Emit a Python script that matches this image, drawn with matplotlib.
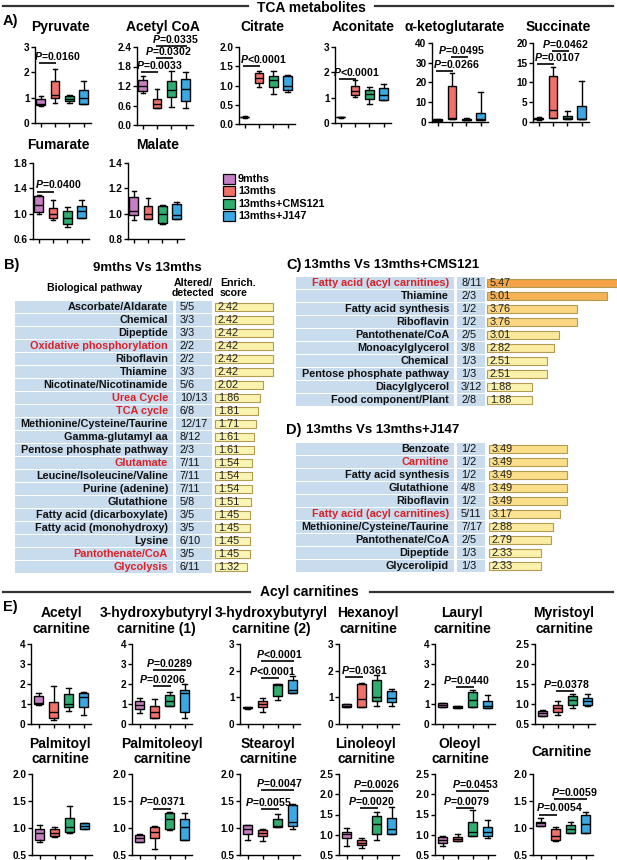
import matplotlib
matplotlib.use('Agg')
import matplotlib.pyplot as plt
from matplotlib.colors import LinearSegmentedColormap
from matplotlib.patches import Rectangle
import numpy as np

plt.rcParams['font.family'] = ['Liberation Sans', 'DejaVu Sans']
plt.rcParams['mathtext.fontset'] = 'custom'
plt.rcParams['mathtext.it'] = 'Liberation Sans:italic:bold'
plt.rcParams['mathtext.rm'] = 'Liberation Sans:bold'
plt.rcParams['mathtext.bf'] = 'Liberation Sans:bold'

# ---------------- data ----------------
groups = ['9mths', '13mths', '13mths+CMS121', '13mths+J147']
group_colors = ['#c77fc4', '#f2706a', '#2fae72', '#3aa8e2']

# box stats: (whislo, q1, median, q3, whishi) per group
pyruvate = [(0.68, 0.72, 0.76, 0.95, 1.05), (0.78, 0.98, 1.11, 1.66, 2.15), (0.78, 0.85, 0.95, 1.07, 1.11), (0.76, 0.76, 0.98, 1.30, 1.66)]
acetylcoa = [(0.98, 1.04, 1.20, 1.40, 1.50), (0.51, 0.51, 0.64, 0.80, 1.12), (0.54, 0.87, 1.07, 1.35, 1.65), (0.51, 0.74, 1.12, 1.41, 1.63)]
citrate = [(0.16, 0.17, 0.18, 0.19, 0.20), (0.95, 1.07, 1.19, 1.33, 1.38), (0.78, 0.95, 1.14, 1.24, 1.38), (0.84, 0.88, 0.98, 1.24, 1.28)]
aconitate = [(0.21, 0.22, 0.23, 0.24, 0.25), (1.02, 1.11, 1.28, 1.46, 1.69), (0.76, 0.95, 1.15, 1.30, 1.41), (0.91, 0.91, 1.11, 1.37, 1.54)]
akg = [(0.3, 0.5, 0.9, 1.4, 1.6), (1.4, 1.7, 2.2, 18.2, 25.0), (0.8, 0.85, 1.2, 1.7, 1.8), (1.2, 1.2, 1.7, 4.6, 15.3)]
succinate = [(0.6, 0.68, 0.85, 1.1, 1.2), (1.1, 1.1, 3.1, 11.7, 13.9), (0.68, 0.68, 1.1, 1.45, 2.8), (0.68, 0.68, 0.85, 4.0, 10.4)]
fumarate = [(1.0, 1.02, 1.13, 1.28, 1.30), (0.90, 0.93, 1.0, 1.09, 1.21), (0.79, 0.84, 0.93, 1.04, 1.10), (0.93, 0.93, 1.04, 1.12, 1.21)]
malate = [(0.95, 0.99, 1.02, 1.13, 1.18), (0.96, 0.96, 1.0, 1.06, 1.12), (0.92, 0.93, 1.0, 1.06, 1.07), (0.96, 0.96, 0.99, 1.08, 1.09)]

tca_names = ['Pyruvate', 'Acetyl CoA', 'Citrate', 'Aconitate', 'α-ketoglutarate', 'Succinate', 'Fumarate', 'Malate']
tca_stats = [pyruvate, acetylcoa, citrate, aconitate, akg, succinate, fumarate, malate]
tca_yticks = [[0, 1, 2, 3], [0, 0.6, 1.2, 1.8, 2.4], [0, 0.5, 1.0, 1.5, 2.0], [0, 1, 2, 3],
              [0, 10, 20, 30, 40], [0, 5, 10, 15, 20], [0.6, 1.0, 1.4, 1.8], [0.8, 1.0, 1.2, 1.4]]
tca_yticklabels = [['0', '1', '2', '3'], ['0.0', '0.6', '1.2', '1.8', '2.4'], ['0.0', '0.5', '1.0', '1.5', '2.0'],
                   ['0', '1', '2', '3'], ['0', '10', '20', '30', '40'], ['0', '5', '10', '15', '20'],
                   ['0.6', '1.0', '1.4', '1.8'], ['0.8', '1.0', '1.2', '1.4']]
# (group i, group j, bar height, label, label x)
tca_pvals = [
    [(1, 2, 2.37, '=0.0160', 2.2)],
    [(1, 2, 1.63, '=0.0033', 2.14), (2, 3, 2.07, '=0.0302', 2.77), (2, 4, 2.42, '=0.0335', 3.26)],
    [(1, 2, 1.5, '<0.0001', 2.28)],
    [(1, 2, 1.73, '<0.0001', 2.07)],
    [(1, 2, 26, '=0.0266', 2.33), (2, 3, 33, '=0.0495', 2.67)],
    [(1, 2, 14.7, '=0.0107', 2.3), (2, 3, 17.9, '=0.0462', 2.84)],
    [(1, 2, 1.35, '=0.0400', 2.35)],
    [],
]

acetylcarn = [(0.97, 1.0, 1.05, 1.4, 1.55), (0.2, 0.29, 0.62, 1.08, 1.92), (0.66, 0.83, 1.0, 1.5, 1.8), (0.45, 0.83, 1.33, 1.55, 1.58)]
hb1 = [(0.57, 0.74, 0.96, 1.16, 1.3), (0.29, 0.32, 0.62, 0.91, 1.25), (0.89, 0.89, 1.13, 1.47, 1.62), (0.29, 0.62, 1.55, 1.70, 2.0)]
hb2 = [(0.58, 0.59, 0.61, 0.63, 0.65), (0.46, 0.63, 0.75, 0.88, 0.98), (0.9, 1.06, 1.47, 1.5, 1.5), (1.15, 1.15, 1.27, 1.65, 1.81)]
hexanoyl = [(0.62, 0.62, 0.68, 0.75, 0.75), (0.62, 0.62, 0.94, 1.5, 1.55), (0.69, 0.87, 1.02, 1.65, 1.85), (0.69, 0.81, 0.98, 1.22, 1.31)]
lauryl = [(0.83, 0.86, 0.96, 1.03, 1.03), (0.79, 0.79, 0.86, 0.91, 0.91), (0.83, 0.83, 1.21, 1.59, 1.7), (0.79, 0.79, 0.91, 1.16, 1.47)]
myristoyl = [(0.71, 0.71, 0.77, 0.83, 0.85), (0.73, 0.80, 0.90, 0.98, 1.07), (0.91, 0.98, 1.11, 1.21, 1.26), (0.95, 0.97, 1.07, 1.14, 1.26)]
palmitoyl = [(0.75, 0.77, 0.91, 0.99, 1.06), (0.84, 0.85, 0.91, 0.99, 1.02), (0.90, 0.93, 1.02, 1.18, 1.40), (0.99, 0.99, 1.04, 1.09, 1.10)]
palmitoleoyl = [(0.74, 0.75, 0.81, 0.87, 0.88), (0.62, 0.81, 0.93, 1.01, 1.04), (0.96, 0.98, 1.16, 1.28, 1.30), (0.77, 0.77, 1.02, 1.16, 1.28)]
stearoyl = [(0.78, 0.89, 0.99, 1.06, 1.06), (0.76, 0.85, 0.90, 0.96, 0.98), (1.01, 1.01, 1.04, 1.16, 1.26), (0.99, 1.04, 1.12, 1.43, 1.45)]
linoleoyl = [(0.72, 0.92, 1.02, 1.08, 1.16), (0.68, 0.75, 0.80, 0.87, 0.91), (0.87, 1.03, 1.26, 1.46, 1.55), (1.02, 1.02, 1.13, 1.42, 1.68)]
oleoyl = [(0.71, 0.79, 0.87, 0.94, 0.97), (0.85, 0.85, 0.90, 0.95, 1.01), (0.97, 0.97, 1.08, 1.32, 1.61), (0.91, 0.97, 1.08, 1.18, 1.36)]
carnitine = [(1.04, 1.04, 1.09, 1.12, 1.18), (0.76, 0.78, 0.85, 0.98, 1.01), (0.91, 0.91, 0.99, 1.06, 1.12), (0.91, 0.91, 1.07, 1.25, 1.30)]

acyl_names = ['Acetyl\ncarnitine', '3-hydroxybutyryl\ncarnitine (1)', '3-hydroxybutyryl\ncarnitine (2)',
              'Hexanoyl\ncarnitine', 'Lauryl\ncarnitine', 'Myristoyl\ncarnitine',
              'Palmitoyl\ncarnitine', 'Palmitoleoyl\ncarnitine', 'Stearoyl\ncarnitine',
              'Linoleoyl\ncarnitine', 'Oleoyl\ncarnitine', 'Carnitine']
acyl_stats = [acetylcarn, hb1, hb2, hexanoyl, lauryl, myristoyl,
              palmitoyl, palmitoleoyl, stearoyl, linoleoyl, oleoyl, carnitine]
acyl_yticks = [[0, 1, 2, 3, 4], [0, 1, 2, 3, 4], [0, 1, 2, 3], [0, 1, 2, 3], [0, 1, 2, 3, 4],
               [0.5, 1.0, 1.5, 2.0, 2.5], [0.5, 1.0, 1.5, 2.0], [0.5, 1.0, 1.5, 2.0], [0.5, 1.0, 1.5, 2.0],
               [0.5, 1.0, 1.5, 2.0, 2.5], [0.5, 1.0, 1.5, 2.0, 2.5], [0.5, 1.0, 1.5, 2.0]]
acyl_yticklabels = [['0', '1', '2', '3', '4'], ['0', '1', '2', '3', '4'], ['0', '1', '2', '3'], ['0', '1', '2', '3'],
                    ['0', '1', '2', '3', '4'], ['0.5', '1.0', '1.5', '2.0', '2.5'], ['0.5', '1.0', '1.5', '2.0'],
                    ['0.5', '1.0', '1.5', '2.0'], ['0.5', '1.0', '1.5', '2.0'], ['0.5', '1.0', '1.5', '2.0', '2.5'],
                    ['0.5', '1.0', '1.5', '2.0', '2.5'], ['0.5', '1.0', '1.5', '2.0']]
acyl_pvals = [
    [],
    [(2, 3, 1.9, '=0.0206', 2.53), (2, 4, 2.71, '=0.0289', 3.03)],
    [(2, 3, 1.72, '<0.0001', 2.67), (2, 4, 2.35, '<0.0001', 3.13)],
    [(1, 2, 1.77, '=0.0361', 2.2)],
    [(2, 3, 1.84, '=0.0440', 2.6)],
    [(2, 3, 1.32, '=0.0378', 2.57)],
    [],
    [(2, 3, 1.36, '=0.0371', 2.53)],
    [(2, 3, 1.35, '=0.0055', 2.37), (2, 4, 1.70, '=0.0047', 3.1)],
    [(2, 3, 1.65, '=0.0020', 2.63), (2, 4, 2.08, '=0.0026', 3.03)],
    [(2, 3, 1.65, '=0.0079', 2.6), (2, 4, 2.08, '=0.0453', 3.2)],
    [(1, 2, 1.25, '=0.0054', 2.3), (2, 4, 1.53, '=0.0059', 3.23)],
]

b_names = ['Ascorbate/Aldarate', 'Chemical', 'Dipeptide', 'Oxidative phosphorylation', 'Riboflavin', 'Thiamine',
           'Nicotinate/Nicotinamide', 'Urea Cycle', 'TCA cycle', 'Methionine/Cysteine/Taurine', 'Gamma-glutamyl aa',
           'Pentose phosphate pathway', 'Glutamate', 'Leucine/Isoleucine/Valine', 'Purine (adenine)', 'Glutathione',
           'Fatty acid (dicarboxylate)', 'Fatty acid (monohydroxy)', 'Lysine', 'Pantothenate/CoA', 'Glycolysis']
b_altered = ['5/5', '3/3', '3/3', '2/2', '2/2', '3/3', '5/6', '10/13', '6/8', '12/17', '8/12', '2/3', '7/11',
             '7/11', '7/11', '5/8', '3/5', '3/5', '6/10', '3/5', '6/11']
b_scores = [2.42, 2.42, 2.42, 2.42, 2.42, 2.42, 2.02, 1.86, 1.81, 1.71, 1.61, 1.61, 1.54, 1.54, 1.54, 1.51,
            1.45, 1.45, 1.45, 1.45, 1.32]
b_red = ['Oxidative phosphorylation', 'Urea Cycle', 'TCA cycle', 'Glutamate', 'Pantothenate/CoA', 'Glycolysis']

c_names = ['Fatty acid (acyl carnitines)', 'Thiamine', 'Fatty acid synthesis', 'Riboflavin', 'Pantothenate/CoA',
           'Monoacylglycerol', 'Chemical', 'Pentose phosphate pathway', 'Diacylglycerol', 'Food component/Plant']
c_altered = ['8/11', '2/3', '1/2', '1/2', '2/5', '3/8', '1/3', '1/3', '3/12', '2/8']
c_scores = [5.47, 5.01, 3.76, 3.76, 3.01, 2.82, 2.51, 2.51, 1.88, 1.88]
c_red = ['Fatty acid (acyl carnitines)']

d_names = ['Benzoate', 'Carnitine', 'Fatty acid synthesis', 'Glutathione', 'Riboflavin',
           'Fatty acid (acyl carnitines)', 'Methionine/Cysteine/Taurine', 'Pantothenate/CoA', 'Dipeptide', 'Glycerolipid']
d_altered = ['1/2', '1/2', '1/2', '4/8', '1/2', '5/11', '7/17', '2/5', '1/3', '1/3']
d_scores = [3.49, 3.49, 3.49, 3.49, 3.49, 3.17, 2.88, 2.79, 2.33, 2.33]
d_red = ['Carnitine', 'Fatty acid (acyl carnitines)']

# ---------------- figure ----------------
W, H = 617, 860
fig = plt.figure(figsize=(W / 100, H / 100), dpi=100)
ov = fig.add_axes([0, 0, 1, 1])
ov.set_xlim(0, W)
ov.set_ylim(H, 0)
ov.axis('off')

RED = '#d8232a'
CELL = '#c8dcee'
score_cmap = LinearSegmentedColormap.from_list(
    'enrich', [(0.0, '#faf6b6'), (0.31, '#faf0a9'), (0.52, '#fbde8a'), (0.595, '#fbd683'),
               (0.88, '#f7b358'), (1.0, '#f4a445')])


def score_color(s):
    return score_cmap(np.clip((s - 1.3) / 4.2, 0, 1))


def px_axes(x0, ytop, ybot, width):
    return fig.add_axes([x0 / W, 1 - ybot / H, width / W, (ybot - ytop) / H])


def box_panel(x0, ytop, ybot, pitch, xlo, title, title_x, title_y, stats, yticks, yticklabels, pvals):
    width = (4.5 - xlo) * pitch
    ax = px_axes(x0, ytop, ybot, width)
    bst = [dict(whislo=s[0], q1=s[1], med=s[2], q3=s[3], whishi=s[4], fliers=[]) for s in stats]
    b = ax.bxp(bst, positions=[1, 2, 3, 4], widths=0.62, patch_artist=True, showfliers=False,
               boxprops=dict(linewidth=1.0, edgecolor='black'),
               medianprops=dict(color='black', linewidth=1.0),
               whiskerprops=dict(color='black', linewidth=1.0),
               capprops=dict(color='black', linewidth=1.0))
    for patch, c in zip(b['boxes'], group_colors):
        patch.set_facecolor(c)
    ax.set_xlim(xlo, 4.5)
    ax.set_ylim(yticks[0], yticks[-1])
    ax.set_yticks(yticks)
    ax.set_yticklabels(yticklabels, fontsize=7.2, fontweight='bold')
    ax.set_xticks([1, 2, 3, 4])
    ax.set_xticklabels([])
    for sp in ['top', 'right']:
        ax.spines[sp].set_visible(False)
    for sp in ['left', 'bottom']:
        ax.spines[sp].set_linewidth(1.0)
    ax.tick_params(length=3, width=1.0, pad=1)
    ax.patch.set_alpha(0)
    for (i, j, y, lab, tx) in pvals:
        ax.plot([i - 0.1, j + 0.1], [y, y], color='black', lw=1.2, clip_on=False, solid_capstyle='butt')
        ax.annotate(r'$\it{P}$' + lab, (tx, y), xytext=(0, 0.8), textcoords='offset points',
                    ha='center', va='bottom', fontsize=7.6, fontweight='bold', annotation_clip=False)
    tx = x0 + width / 2 if title_x is None else title_x
    ov.text(tx, title_y, title, ha='center', va='center', fontsize=10,
            fontweight='bold', linespacing=1.12)
    return ax


# TCA panels
tca_x0 = [35, 137, 239, 335, 432, 533, 33, 128]
tca_ytop = [47, 47, 47, 47, 43, 43, 163, 163]
tca_ybot = [123, 125, 124, 123, 122, 122, 239, 239]
tca_ty = [27, 27, 27, 27, 27, 27, 145, 145]
tca_tx = [60, 163, 262, 363, 455, 558, 58, 158]
for k in range(8):
    box_panel(tca_x0[k], tca_ytop[k], tca_ybot[k], 14.3, 0.6, tca_names[k], tca_tx[k], tca_ty[k],
              tca_stats[k], tca_yticks[k], tca_yticklabels[k], tca_pvals[k])

# Acyl carnitine panels
ac_x0 = [31, 132, 240, 339, 435, 535, 32, 132, 240, 339, 435, 533]
ac_ytop = [644] * 6 + [774] * 6
ac_ybot = [724] * 6 + [855] * 6
ac_ty = [621] * 6 + [751.5] * 6
ac_tx = [61, 156, 271, 368, 462, 564, 60, 162, 268, 366, 460, 562]
for k in range(12):
    box_panel(ac_x0[k], ac_ytop[k], ac_ybot[k], 15, 0.5, acyl_names[k], ac_tx[k], ac_ty[k],
              acyl_stats[k], acyl_yticks[k], acyl_yticklabels[k], acyl_pvals[k])


def draw_table(x_left, name_end, alt_start, alt_end, bar_start, x_right, y_first, pitch, scale,
               names, altered, scores, red):
    n = len(names)
    ytop = y_first - pitch / 2
    ax = px_axes(x_left, ytop, ytop + n * pitch, x_right - x_left)
    ax.set_xlim((x_left - bar_start) / scale, (x_right - bar_start) / scale)
    ax.set_ylim(n - 0.5, -0.5)
    ax.axis('off')
    rows = np.arange(n)
    ch = 12 / pitch
    ax.barh(rows, (name_end - x_left) / scale, left=(x_left - bar_start) / scale, height=ch,
            color=CELL, linewidth=0)
    ax.barh(rows, (alt_end - alt_start) / scale, left=(alt_start - bar_start) / scale, height=ch,
            color=CELL, linewidth=0)
    ax.barh(rows, scores, left=0, height=0.62, color=[score_color(s) for s in scores],
            edgecolor='#b39b52', linewidth=0.8)
    for r, nm, al, sc in zip(rows, names, altered, scores):
        ax.text((name_end - 5 - bar_start) / scale, r, nm, ha='right', va='center', fontsize=7.8,
                fontweight='bold', color=RED if nm in red else '#111111')
        ax.text((alt_start + 4 - bar_start) / scale, r, al, ha='left', va='center', fontsize=7.8,
                color='#111111')
        ax.text(3 / scale, r, '%.2f' % sc, ha='left', va='center', fontsize=7.8, color='#222222')
    return ax


draw_table(15, 173, 176, 212, 215, 305, 307.3, 13, 24.0, b_names, b_altered, b_scores, b_red)
draw_table(296, 454, 457, 485, 487, 617, 283.3, 13, 23.9, c_names, c_altered, c_scores, c_red)
draw_table(296, 454, 457, 485, 489, 617, 449.0, 13, 22.3, d_names, d_altered, d_scores, d_red)

# section headers and labels
ov.plot([3, 248], [6, 6], color='#333333', lw=1.6)
ov.plot([375, 613], [6, 6], color='#333333', lw=1.6)
ov.text(311, 8, 'TCA metabolites', ha='center', va='center', fontsize=10, fontweight='bold')
ov.plot([3, 250], [592, 592], color='#333333', lw=1.6)
ov.plot([370, 613], [592, 592], color='#333333', lw=1.6)
ov.text(309, 592, 'Acyl carnitines', ha='center', va='center', fontsize=10, fontweight='bold')

for lab, x, y in [('A)', 3, 21), ('B)', 4, 265), ('C)', 286, 265), ('D)', 286, 430), ('E)', 3, 607)]:
    ov.text(x, y, lab, ha='left', va='center', fontsize=10.5, fontweight='bold')

ov.text(147, 268, '9mths Vs 13mths', ha='center', va='center', fontsize=9.5, fontweight='bold')
ov.text(95, 288, 'Biological pathway', ha='center', va='center', fontsize=7.6, fontweight='bold')
ov.text(193, 288.5, 'Altered/\ndetected', ha='center', va='center', fontsize=7.6, fontweight='bold',
        linespacing=1.0)
ov.text(220, 288.5, 'Enrich.\nscore', ha='left', va='center', fontsize=7.6, fontweight='bold',
        linespacing=1.0)
ov.text(304, 265, '13mths Vs 13mths+CMS121', ha='left', va='center', fontsize=9.5, fontweight='bold')
ov.text(306, 430, '13mths Vs 13mths+J147', ha='left', va='center', fontsize=9.5, fontweight='bold')

# legend
leg_y = [179, 191.3, 203.6, 216]
for g, c, y in zip(groups, group_colors, leg_y):
    ov.add_patch(Rectangle((223, y - 5), 12, 10, facecolor=c, edgecolor='black', lw=0.9))
    ov.text(238, y, g, ha='left', va='center', fontsize=7.8, fontweight='bold')

fig.savefig('out.png', dpi=100)
